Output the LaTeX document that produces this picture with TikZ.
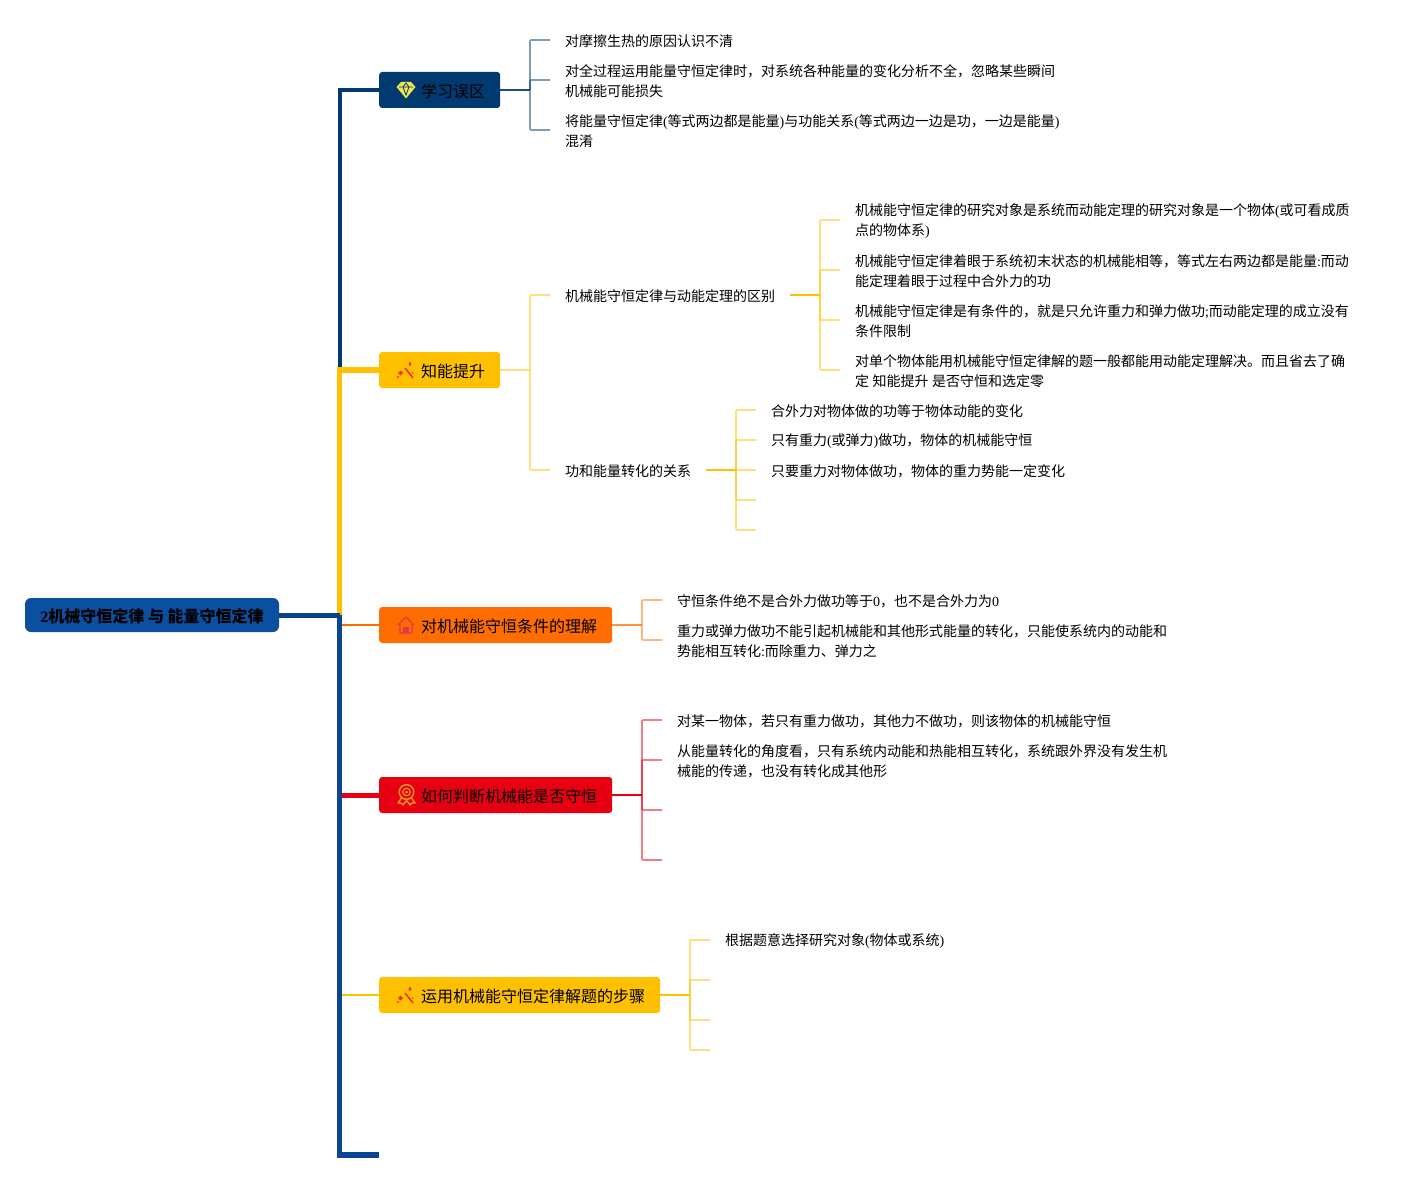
\documentclass[tikz,border=0pt]{standalone}
\usepackage{fontspec}
\setmainfont{Liberation Serif}
\newfontfamily\cjk{Noto Sans CJK SC}
\newcommand{\lat}[1]{{\rmfamily #1}}
\definecolor{navy}{HTML}{003A70}
\definecolor{gold}{HTML}{FFC000}
\definecolor{tang}{HTML}{FF6D00}
\definecolor{crim}{HTML}{E60012}
\definecolor{deep}{HTML}{0A4596}
\definecolor{rootblue}{HTML}{0B50A0}
\definecolor{gemyel}{HTML}{F2E44B}
\definecolor{wandred}{HTML}{F0302A}
\definecolor{homered}{HTML}{E8344A}
\definecolor{medalor}{HTML}{FF9A1F}
\tikzset{
	leaf/.style={inner sep=0pt, outer xsep=15pt, anchor=west, align=left, font=\cjk\fontsize{14}{20}\selectfont},
	topic/.style={rounded corners=3pt, inner xsep=0pt, inner ysep=0pt, minimum height=36pt, anchor=west, text height=15pt, text depth=0pt, font=\cjk\fontsize{16}{20}\selectfont,
		execute at begin node={\hspace*{42pt}}, execute at end node={\hspace*{15pt}}},
	hub/.style={line width=2pt},
	twig/.style={line width=1.6pt, opacity=.5, rounded corners=1pt},
	gem/.pic={
		\fill [gemyel] (-9.5,-3) -- (-5,-8) -- (5,-8) -- (9.5,-3) -- (0,8.5) -- cycle;
		\draw [navy, line width=.8pt] (-7,-3) -- (7,-3) (-3,-3) -- (0,5) -- (3,-3) (-3,-3) -- (0,-7) -- (3,-3);
	},
	wand/.pic={
		\draw [wandred, line width=1.5pt] (-1,-3) -- (7,7);
		\fill [wandred] (4,-9.5) -- (5.5,-7) -- (4,-4.5) -- (2.5,-7) -- cycle;
		\fill [wandred] (-5.5,-.5) -- (-3,2) -- (-5.5,4.5) -- (-8,2) -- cycle;
		\fill [wandred] (6.5,2) circle (.9);
		\fill [wandred] (-8,6) circle (1.2);
	},
	home/.pic={
		\draw [homered, line width=1.3pt, line join=round] (-8,0) -- (0,-8) -- (8,0) (-6,-1) -- (-6,8) -- (6,8) -- (6,-1);
		\fill [homered] (-3,8) rectangle (3,2);
	},
	medal/.pic={
		\draw [medalor, line width=1.4pt] (.5,-3) circle (7.3);
		\draw [medalor, line width=1.1pt] (.5,-3) circle (3.8);
		\fill [medalor] (.5,-3) circle (1.5);
		\draw [medalor, line width=1.4pt, line join=round] (-4.5,3) -- (-8,8) -- (-5,8) -- (-3,10) -- (.5,5.5) -- (4,10) -- (6,8) -- (9,8) -- (5.5,3);
	}
}
\begin{document}
\begin{tikzpicture}[x=1pt, y=-1pt]
		\useasboundingbox (0,0) rectangle (1415,1180);
		\node (root) at (152,615) [fill=rootblue, rounded corners=6pt, minimum width=254pt, minimum height=34pt, inner sep=0pt, text height=15pt, text depth=0pt, font=\cjk\bfseries\fontsize{16}{20}\selectfont] {\lat{\bfseries 2}机械守恒定律 与 能量守恒定律};
		\coordinate (tr) at (339.5,615);
		\coordinate (bot) at (379,1155); %bottom end
		\node (t1) at (379,90) [topic, fill=navy] {学习误区};
		\node (t2) at (379,370) [topic, fill=gold] {知能提升};
		\node (t3) at (379,625) [topic, fill=tang] {对机械能守恒条件的理解};
		\node (t4) at (379,795) [topic, fill=crim] {如何判断机械能是否守恒};
		\node (t5) at (379,995) [topic, fill=gold] {运用机械能守恒定律解题的步骤};
		\pic at (406,90) {gem};
		\pic at (406,371) {wand};
		\pic at (406,625) {home};
		\pic at (406,795) {medal};
		\pic at (406,996) {wand};
		% first branch
		\coordinate (h1) at (530,90);
		\node (11) at (550,41.2) [leaf] {对摩擦生热的原因认识不清};
		\node (12) at (550,81.2) [leaf] {对全过程运用能量守恒定律时，对系统各种能量的变化分析不全，忽略某些瞬间\\机械能可能损失};
		\node (13) at (550,131.2) [leaf] {将能量守恒定律\lat{(}等式两边都是能量\lat{)}与功能关系\lat{(}等式两边一边是功，一边是能量\lat{)}\\混淆};
		% second branch
		\coordinate (h2) at (530,370);
		\node (21) at (550,296.2) [leaf] {机械能守恒定律与动能定理的区别};
		\node (22) at (550,471.2) [leaf] {功和能量转化的关系};
		\coordinate (h21) at (820,295);
		\node (211) at (840,221.2) [leaf] {机械能守恒定律的研究对象是系统而动能定理的研究对象是一个物体\lat{(}或可看成质\\点的物体系\lat{)}};
		\node (212) at (840,271.2) [leaf] {机械能守恒定律着眼于系统初末状态的机械能相等，等式左右两边都是能量\lat{:}而动\\能定理着眼于过程中合外力的功};
		\node (213) at (840,321.2) [leaf] {机械能守恒定律是有条件的，就是只允许重力和弹力做功\lat{;}而动能定理的成立没有\\条件限制};
		\node (214) at (840,371.2) [leaf] {对单个物体能用机械能守恒定律解的题一般都能用动能定理解决。而且省去了确\\定\lat{ }知能提升\lat{ }是否守恒和选定零};
		\coordinate (h22) at (736,470);
		\node (221) at (756,411.2) [leaf] {合外力对物体做的功等于物体动能的变化};
		\node (222) at (756,441.2) [leaf] {只有重力\lat{(}或弹力\lat{)}做功，物体的机械能守恒};
		\node (223) at (756,471.2) [leaf] {只要重力对物体做功，物体的重力势能一定变化};
		\coordinate (224) at (756,500);
		\coordinate (225) at (756,530);
		% third branch
		\coordinate (h3) at (642,625);
		\node (31) at (662,601.2) [leaf] {守恒条件绝不是合外力做功等于\lat{0}，也不是合外力为\lat{0}};
		\node (32) at (662,641.2) [leaf] {重力或弹力做功不能引起机械能和其他形式能量的转化，只能使系统内的动能和\\势能相互转化\lat{:}而除重力、弹力之};
		% fourth branch
		\coordinate (h4) at (642,795);
		\node (41) at (662,721.2) [leaf] {对某一物体，若只有重力做功，其他力不做功，则该物体的机械能守恒};
		\node (42) at (662,761.2) [leaf] {从能量转化的角度看，只有系统内动能和热能相互转化，系统跟外界没有发生机\\械能的传递，也没有转化成其他形};
		\coordinate (43) at (662,810);
		\coordinate (44) at (662,860);
		% fifth branch
		\coordinate (h5) at (690,995);
		\node (51) at (710,941.2) [leaf] {根据题意选择研究对象\lat{(}物体或系统\lat{)}};
		\coordinate (52) at (710,980);
		\coordinate (53) at (710,1020);
		\coordinate (54) at (710,1050);
		% trunk
		\draw [navy, line width=4pt] (tr) |- (t1.west);
		\draw [gold, line width=5.5pt] (tr) |- (t2.west);
		\draw [tang, line width=2.5pt] (tr) |- (t3.west);
		\draw [crim, line width=5pt] (tr) |- (t4.west);
		\draw [gold, line width=2.5pt] (tr) |- (t5.west);
		\draw [deep, line width=5.5pt] (tr) |- (bot);
		\draw [deep!70!navy, line width=5pt, line cap=square] (root.east) to (tr);
		% brackets
		\draw [hub, navy!90] (t1.east) to (h1);
		\draw [twig, navy] (h1) |- ([yshift=1.2pt]11.west);
		\draw [twig, navy] (h1) |- ([yshift=1.2pt]12.west);
		\draw [twig, navy] (h1) |- ([yshift=1.2pt]13.west);
		\draw [hub, gold!50] (t2.east) to (h2);
		\draw [twig, gold] (h2) |- ([yshift=1.2pt]21.west);
		\draw [twig, gold] (h2) |- ([yshift=1.2pt]22.west);
		\draw [hub, gold] ([yshift=1.2pt]21.east) to (h21);
		\draw [twig, gold] (h21) |- ([yshift=1.2pt]211.west);
		\draw [twig, gold] (h21) |- ([yshift=1.2pt]212.west);
		\draw [twig, gold] (h21) |- ([yshift=1.2pt]213.west);
		\draw [twig, gold] (h21) |- ([yshift=1.2pt]214.west);
		\draw [hub, gold] ([yshift=1.2pt]22.east) to (h22);
		\draw [twig, gold] (h22) |- ([yshift=1.2pt]221.west);
		\draw [twig, gold] (h22) |- ([yshift=1.2pt]222.west);
		\draw [twig, gold] (h22) |- ([yshift=1.2pt]223.west);
		\draw [twig, gold] (h22) |- (224);
		\draw [twig, gold] (h22) |- (225);
		\draw [hub, tang!75] (t3.east) to (h3);
		\draw [twig, tang] (h3) |- ([yshift=1.2pt]31.west);
		\draw [twig, tang] (h3) |- ([yshift=1.2pt]32.west);
		\draw [hub, crim] (t4.east) to (h4);
		\draw [twig, crim] (h4) |- ([yshift=1.2pt]41.west);
		\draw [twig, crim] (h4) |- ([yshift=1.2pt]42.west);
		\draw [twig, crim] (h4) |- (43);
		\draw [twig, crim] (h4) |- (44);
		\draw [hub, gold] (t5.east) to (h5);
		\draw [twig, gold] (h5) |- ([yshift=1.2pt]51.west);
		\draw [twig, gold] (h5) |- (52);
		\draw [twig, gold] (h5) |- (53);
		\draw [twig, gold] (h5) |- (54);
	\end{tikzpicture}
\end{document}
